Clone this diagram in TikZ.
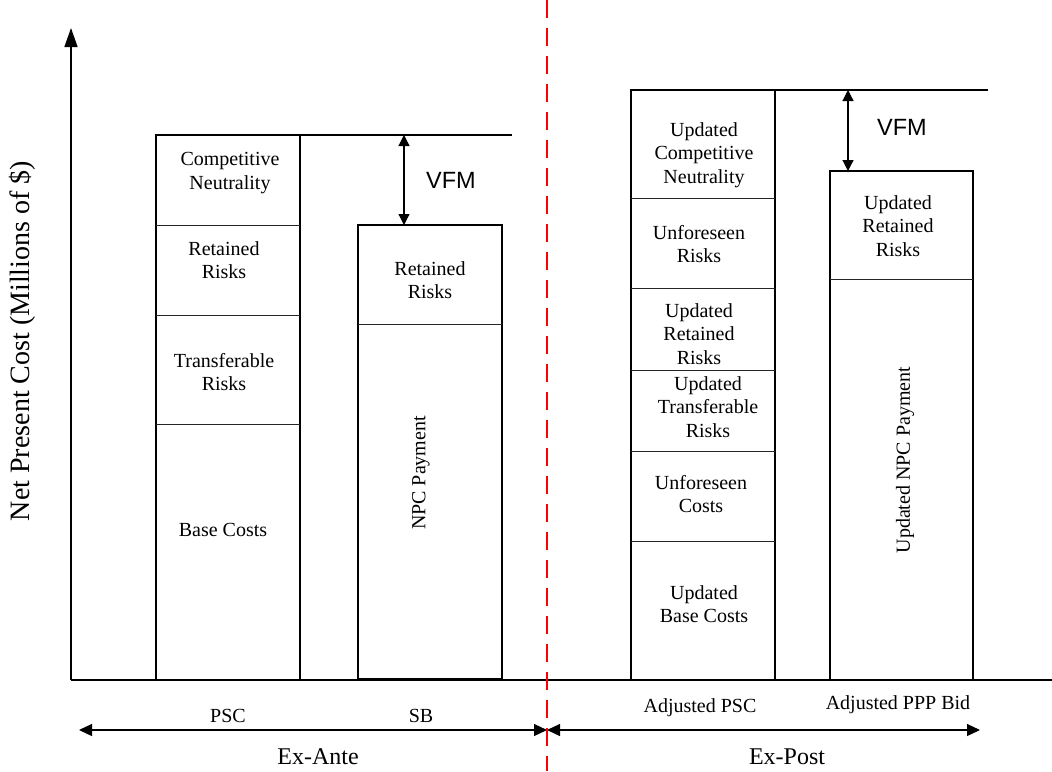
\documentclass[tikz,border=0pt]{standalone}
\usepackage{fontspec}
\setmainfont{Liberation Serif}
\newfontfamily\vfmfont{Liberation Sans}
\usetikzlibrary{arrows.meta}
\tikzset{
  bar/.style={line width=2.2pt},
  split/.style={line width=1pt, black!85},
  seg/.style={align=center, font=\fontsize{20}{23.5}\selectfont},
  vfmlabel/.style={font=\vfmfont\fontsize{23.5}{26}\selectfont},
  vfmarrow/.style={line width=1.2pt, {Triangle[length=11pt,width=11pt]}-{Triangle[length=11pt,width=11pt]}},
  period/.style={line width=1.2pt, {Triangle[length=13pt,width=12pt]}-{Triangle[length=13pt,width=12pt]}}
}
\begin{document}
\begin{tikzpicture}[x=1pt,y=-1pt]
\useasboundingbox (0,0) rectangle (1052,771);

\coordinate (origin) at (71,680);
\coordinate (ytop)   at (71,28);
\coordinate (xend)   at (1052,680);
\draw[line width=1.5pt,-{Triangle[length=19pt,width=13pt]}] (origin) -- (ytop);
\draw[line width=1.5pt] (origin) -- (xend);
\node[rotate=90, font=\fontsize{28}{30}\selectfont] (ylabel) at (22,341) {Net Present Cost (Millions of \$)};

% Ex-ante bars
\draw[bar] (156,135) rectangle (300,680);
\foreach \y in {225,315,424}
    \draw[split] (156,\y) -- (300,\y);
\draw[bar] (358,225) rectangle (502,679);
\draw[split] (358,324) -- (502,324);

\node[seg] (pscCN) at (230,173) {Competitive\\Neutrality};
\node[seg] (pscRR) at (224,260) {Retained\\Risks};
\node[seg] (pscTR) at (224,372) {Transferable\\Risks};
\node[seg] (pscBC) at (223,530) {Base Costs};
\node[seg] (sbRR)  at (430,280) {Retained\\Risks};
\node[seg, rotate=90] (sbNPC) at (421,473) {NPC Payment};

\coordinate (ref1)    at (300,135);
\coordinate (ref1end) at (512,135);
\coordinate (vfm1top) at (404,135);
\coordinate (vfm1bot) at (404,225);
\draw[line width=1.5pt] (ref1) -- (ref1end);
\draw[vfmarrow] (vfm1top) -- (vfm1bot);
\node[vfmlabel] (vfm1) at (451,180) {VFM};

% Ex-post bars
\draw[bar] (631,90) rectangle (775,680);
\foreach \y in {198,288,370,451,541}
    \draw[split] (631,\y) -- (775,\y);
\draw[bar] (830,171) rectangle (973,680);
\draw[split] (830,279) -- (973,279);

\node[seg] (apCN) at (704,155) {Updated\\Competitive\\Neutrality};
\node[seg] (apUR) at (699,244) {Unforeseen\\Risks};
\node[seg] (apRR) at (699,334) {Updated\\Retained\\Risks};
\node[seg] (apTR) at (708,407) {Updated\\Transferable\\Risks};
\node[seg] (apUC) at (701,494) {Unforeseen\\Costs};
\node[seg] (apBC) at (704,604) {Updated\\Base Costs};
\node[seg] (bidRR) at (898,226) {Updated\\Retained\\Risks};
\node[seg, rotate=90] (bidNPC) at (905,460) {Updated NPC Payment};

\coordinate (ref2)    at (775,90);
\coordinate (ref2end) at (988,90);
\coordinate (vfm2top) at (848,90);
\coordinate (vfm2bot) at (848,171);
\draw[line width=1.5pt] (ref2) -- (ref2end);
\draw[vfmarrow] (vfm2top) -- (vfm2bot);
\node[vfmlabel] (vfm2) at (902,127) {VFM};

% bottom labels
\node[seg] (psc) at (228,716) {PSC};
\node[seg] (sb)  at (421,716) {SB};
\node[seg] (apsc) at (700,708) {Adjusted PSC};
\node[seg] (abid) at (898,705) {Adjusted PPP Bid};

\coordinate (anteL) at (79,730);
\coordinate (mid)   at (547,730);
\coordinate (postR) at (980,730);
\draw[period] (anteL) -- (mid);
\draw[period] (mid) -- (postR);
\node[font=\fontsize{24}{26}\selectfont, inner sep=1pt] (exante) at (318,757) {Ex-Ante};
\node[font=\fontsize{24}{26}\selectfont, inner sep=1pt] (expost) at (787,757) {Ex-Post};

\coordinate (divtop) at (547,0);
\coordinate (divbot) at (547,771);
\draw[red, line width=2pt, dash pattern=on 18pt off 10pt] (divtop) -- (divbot);
\end{tikzpicture}
\end{document}
